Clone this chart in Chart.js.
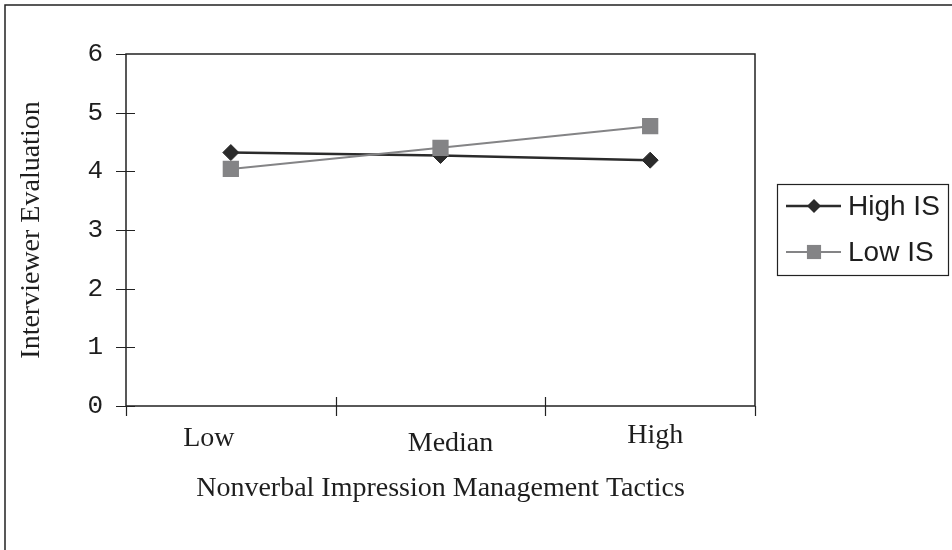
<!DOCTYPE html>
<html>
<head>
<meta charset="utf-8">
<script src="https://cdn.jsdelivr.net/npm/chart.js@4.4.1/dist/chart.umd.min.js"></script>
<style>
html,body{margin:0;padding:0;background:#fff;}
#wrap{width:952px;height:550px;position:relative;}
</style>
</head>
<body>
<div id="wrap"><canvas id="c" width="952" height="550"></canvas></div>
<script>
const categories = ['Low', 'Median', 'High'];
const highIS = [4.32, 4.27, 4.19];
const lowIS = [4.04, 4.40, 4.77];
const yTicks = [0, 1, 2, 3, 4, 5, 6];
const seriesNames = ['High IS', 'Low IS'];
const xTitle = 'Nonverbal Impression Management Tactics';
const yTitle = 'Interviewer Evaluation';

const INK = '#1e1e1e';
const DARK = '#2b2b2b';
const GREY = '#848486';

function drawMarker(ctx, style, r, x, y, color) {
  ctx.save();
  ctx.fillStyle = color;
  ctx.beginPath();
  if (style === 'rectRot') {
    ctx.moveTo(x - r, y); ctx.lineTo(x, y - r); ctx.lineTo(x + r, y); ctx.lineTo(x, y + r);
  } else {
    const s = Math.SQRT1_2 * r;
    ctx.rect(x - s, y - s, 2 * s, 2 * s);
  }
  ctx.closePath();
  ctx.fill();
  ctx.restore();
}

const framePlugin = {
  id: 'frame',
  beforeDraw(chart) {
    const ctx = chart.ctx;
    ctx.save();
    ctx.fillStyle = '#fff';
    ctx.fillRect(0, 0, chart.width, chart.height);
    ctx.strokeStyle = '#222';
    ctx.lineWidth = 1.5;
    ctx.strokeRect(5, 5, 2000, 2000);
    ctx.restore();
  },
  beforeDatasetsDraw(chart) {
    const ctx = chart.ctx;
    const a = chart.chartArea;
    const xs = chart.scales.x, ys = chart.scales.y;
    ctx.save();
    ctx.strokeStyle = '#222';
    ctx.lineWidth = 1.5;
    ctx.strokeRect(a.left, a.top, a.right - a.left, a.bottom - a.top);
    ctx.lineWidth = 1.2;
    ctx.beginPath();
    yTicks.forEach(v => {
      const py = Math.round(ys.getPixelForValue(v)) + 0.5;
      ctx.moveTo(a.left - 10, py);
      ctx.lineTo(a.left + (v === 6 ? 0 : 9), py);
    });
    for (let i = 0; i <= categories.length; i++) {
      const px = Math.round(xs.getPixelForValue(i - 0.5)) + 0.5;
      ctx.moveTo(px, a.bottom - ((i === 0 || i === categories.length) ? 0 : 9));
      ctx.lineTo(px, a.bottom + 10);
    }
    ctx.stroke();
    ctx.restore();
  },
  afterDraw(chart) {
    const ctx = chart.ctx;
    const a = chart.chartArea;
    const xs = chart.scales.x;
    const dx = [-22, 10, 5];
    const yy = [439, 444, 436];
    ctx.save();
    ctx.fillStyle = INK;
    ctx.font = '28px "Liberation Serif", "Times New Roman", serif';
    ctx.textAlign = 'center';
    ctx.textBaseline = 'middle';
    categories.forEach((c, i) => {
      ctx.fillText(c, xs.getPixelForValue(i) + dx[i], yy[i]);
    });
    const lx = a.right + 22, ly = 184, lw = 171, lh = 91;
    ctx.strokeStyle = '#222';
    ctx.lineWidth = 1.2;
    ctx.strokeRect(lx + 0.5, ly + 0.5, lw, lh);
    ctx.font = '28px "Liberation Sans", Arial, sans-serif';
    ctx.textAlign = 'left';
    const rows = [ly + 22, ly + 68];
    chart.data.datasets.forEach((ds, i) => {
      const y = rows[i];
      ctx.strokeStyle = ds.borderColor;
      ctx.lineWidth = ds.borderWidth;
      ctx.beginPath();
      ctx.moveTo(lx + 9, y);
      ctx.lineTo(lx + 64, y);
      ctx.stroke();
      drawMarker(ctx, ds.pointStyle, ds.pointStyle === 'rect' ? 10 : 7, lx + 37, y, ds.pointBackgroundColor);
      ctx.fillStyle = INK;
      ctx.fillText(ds.label, lx + 71, y + 1);
    });
    ctx.restore();
  }
};

const chart = new Chart(document.getElementById('c'), {
  type: 'line',
  data: {
    labels: categories,
    datasets: [
      {
        label: seriesNames[0],
        data: highIS,
        borderColor: DARK,
        backgroundColor: DARK,
        borderWidth: 2.5,
        pointStyle: 'rectRot',
        pointRadius: 8,
        pointHoverRadius: 8,
        pointBackgroundColor: DARK,
        pointBorderColor: DARK,
        pointBorderWidth: 1,
        tension: 0,
        order: 2
      },
      {
        label: seriesNames[1],
        data: lowIS,
        borderColor: GREY,
        backgroundColor: GREY,
        borderWidth: 2,
        pointStyle: 'rect',
        pointRadius: 11.5,
        pointHoverRadius: 11.5,
        pointBackgroundColor: GREY,
        pointBorderColor: GREY,
        pointBorderWidth: 0,
        tension: 0,
        order: 1
      }
    ]
  },
  plugins: [framePlugin],
  options: {
    responsive: false,
    animation: false,
    devicePixelRatio: 1,
    layout: { padding: { left: 0, top: 54, right: 197, bottom: 0 } },
    plugins: {
      legend: { display: false },
      tooltip: { enabled: false }
    },
    scales: {
      x: {
        type: 'category',
        offset: true,
        grid: { display: false, drawTicks: false },
        border: { display: false },
        ticks: { color: 'rgba(0,0,0,0)', font: { size: 28 } },
        title: {
          display: true,
          text: xTitle,
          color: INK,
          font: { family: '"Liberation Serif", "Times New Roman", serif', size: 28 },
          padding: { top: 0, bottom: 45 }
        },
        afterFit(scale) { scale.height = 144; }
      },
      y: {
        min: 0,
        max: 6,
        afterBuildTicks(scale) { scale.ticks = yTicks.map(v => ({ value: v })); },
        grid: { display: false, drawTicks: false, tickLength: 0 },
        border: { display: false },
        ticks: {
          color: INK,
          padding: 23,
          font: { family: '"Liberation Mono", "Courier New", monospace', size: 26 }
        },
        title: {
          display: true,
          text: yTitle,
          color: INK,
          font: { family: '"Liberation Serif", "Times New Roman", serif', size: 28 },
          padding: { top: 15, bottom: 0 }
        },
        afterFit(scale) { scale.width = 126; }
      }
    }
  }
});
</script>
</body>
</html>
